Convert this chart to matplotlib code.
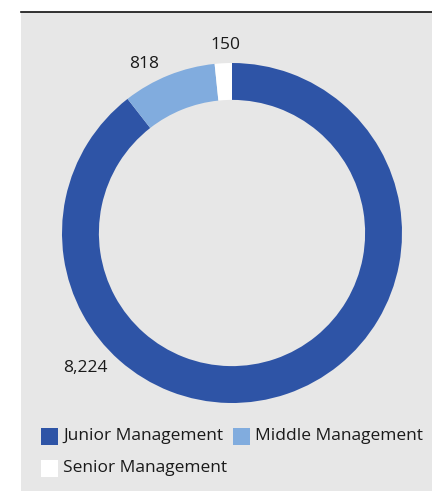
import matplotlib
matplotlib.use("Agg")
import matplotlib.pyplot as plt
from matplotlib.patches import Rectangle

categories = ["Junior Management", "Middle Management", "Senior Management"]
values = [8224, 818, 150]
value_labels = ["8,224", "818", "150"]
colors = ["#2E54A6", "#81ACDE", "#FFFFFF"]

W, H = 432, 491
plt.rcParams['font.family'] = ['Open Sans', 'DejaVu Sans']
fig = plt.figure(figsize=(W / 100, H / 100), dpi=100)
fig.patch.set_facecolor("white")

def fx(px):
    return px / W

def fy(py):
    return 1 - py / H

# grey panel and top rule
fig.patches.append(Rectangle((fx(21), 0), 1 - fx(21), fy(12), transform=fig.transFigure,
                             facecolor="#E7E7E7", edgecolor="none", zorder=-5))
fig.add_artist(plt.Line2D([fx(21), 1], [fy(12), fy(12)], transform=fig.transFigure,
                          color="#111111", linewidth=1.2))

cx, cy, R = 232, 233, 170
ax = fig.add_axes([fx(cx - R), fy(cy + R), 2 * R / W, 2 * R / H])
ax.set_facecolor("none")
ax.set_zorder(2)
ax.pie(values, colors=colors, startangle=90, counterclock=False, radius=1,
       wedgeprops=dict(width=0.217, linewidth=0))
ax.set_xlim(-1, 1)
ax.set_ylim(-1, 1)
ax.set_aspect("equal")
ax.axis("off")

label_pos = [(85, 368), (144, 64), (225, 45)]
for (px, py), t in zip(label_pos, value_labels):
    fig.text(fx(px), fy(py), t, ha="center", va="center", fontsize=12.5, color="#1a1a1a")

# legend
sq = 17
leg = [(41, 428), (233, 428), (41, 460)]
for (px, py), c, name in zip(leg, colors, categories):
    fig.patches.append(Rectangle((fx(px), fy(py + sq)), sq / W, sq / H, transform=fig.transFigure,
                                 facecolor=c, edgecolor="none"))
    fig.text(fx(px + 22), fy(py + sq / 2), name, ha="left", va="center", fontsize=12.5,
             color="#1a1a1a")

fig.savefig("out.png", dpi=100)
